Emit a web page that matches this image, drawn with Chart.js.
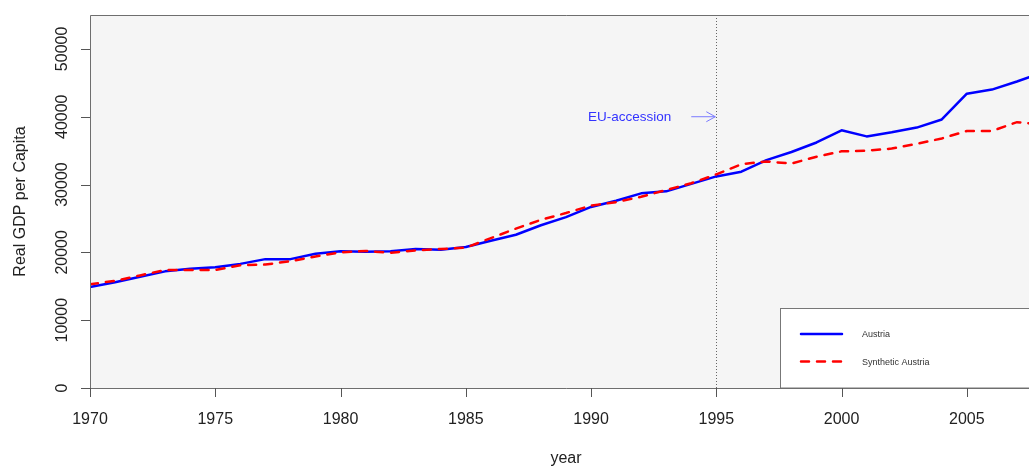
<!DOCTYPE html>
<html>
<head>
<meta charset="utf-8">
<title>Real GDP per Capita: Austria vs Synthetic Austria</title>
<script src="https://cdn.jsdelivr.net/npm/chart.js@4/dist/chart.umd.min.js"></script>
<style>
  html, body { margin: 0; padding: 0; background: #fff; overflow: hidden; }
  #wrap { position: relative; width: 1049px; height: 467px; }
</style>
</head>
<body>
<div id="wrap"><canvas id="gdpChart"></canvas></div>
<script>
// yearly series, 1970-2008
const years = [
  1970, 1971, 1972, 1973, 1974, 1975, 1976, 1977, 1978, 1979,
  1980, 1981, 1982, 1983, 1984, 1985, 1986, 1987, 1988, 1989,
  1990, 1991, 1992, 1993, 1994, 1995, 1996, 1997, 1998, 1999,
  2000, 2001, 2002, 2003, 2004, 2005, 2006, 2007, 2008,
];
const austria = [
  14900, 15600, 16400, 17200, 17600, 17800, 18300, 19000, 19000, 19800,
  20150, 20100, 20150, 20500, 20400, 20800, 21700, 22600, 24000, 25200,
  26700, 27600, 28700, 29000, 30100, 31200, 31900, 33600, 34800, 36200,
  38000, 37100, 37700, 38400, 39600, 43400, 44000, 45200, 46500,
];
const synthAustria = [
  15300, 15800, 16600, 17400, 17400, 17400, 18100, 18200, 18700, 19400,
  20000, 20200, 19950, 20300, 20500, 20700, 22100, 23500, 24800, 25800,
  26900, 27400, 28200, 29200, 30200, 31500, 33000, 33400, 33100, 34100,
  34900, 35000, 35300, 36000, 36800, 37900, 37900, 39200, 38850,
];
const xTicks = [1970, 1975, 1980, 1985, 1990, 1995, 2000, 2005];
const yTicks = [0, 10000, 20000, 30000, 40000, 50000];
const treatYear = 1995;
const arrowLevel = 40000;

const FONT = "'Liberation Sans', Arial, sans-serif";

// R-style frame: grey panel, box, ticks, labels, event marker, legend
const basePlot = {
  id: "basePlot",
  beforeDatasetsDraw(chart) {
    const { ctx, chartArea: a, scales: { x, y } } = chart;
    ctx.save();
    ctx.fillStyle = "#f5f5f5";
    ctx.fillRect(a.left, a.top, a.right - a.left, a.bottom - a.top);

    // dotted line at accession year
    const vx = Math.round(x.getPixelForValue(treatYear)) + 0.5;
    ctx.strokeStyle = "#666";
    ctx.lineWidth = 1;
    ctx.setLineDash([1, 2]);
    ctx.beginPath();
    ctx.moveTo(vx, a.top);
    ctx.lineTo(vx, a.bottom);
    ctx.stroke();
    ctx.setLineDash([]);

    // annotation arrow
    const ay = y.getPixelForValue(arrowLevel);
    const ax0 = x.getPixelForValue(treatYear - 1);
    const ax1 = x.getPixelForValue(treatYear) - 1;
    ctx.strokeStyle = "#7a7aff";
    ctx.beginPath();
    ctx.moveTo(ax0, ay);
    ctx.lineTo(ax1, ay);
    ctx.moveTo(ax1 - 9, ay - 5);
    ctx.lineTo(ax1, ay);
    ctx.lineTo(ax1 - 9, ay + 5);
    ctx.stroke();

    ctx.fillStyle = "#3333ff";
    ctx.font = "13.5px " + FONT;
    ctx.textAlign = "right";
    ctx.textBaseline = "middle";
    ctx.fillText("EU-accession", ax0 - 20, ay + 0.5);
    ctx.restore();
  },
  afterDatasetsDraw(chart) {
    const { ctx, chartArea: a, scales: { x, y } } = chart;
    ctx.save();

    // legend box in the lower right corner
    const lx = 780.5, ly = 308.5;
    ctx.fillStyle = "#fff";
    ctx.fillRect(lx, ly, a.right - lx, a.bottom - ly);
    ctx.strokeStyle = "#777";
    ctx.lineWidth = 1;
    ctx.strokeRect(lx, ly, a.right - lx, a.bottom - ly);

    ctx.lineCap = "round";
    ctx.lineWidth = 2.5;
    ctx.strokeStyle = "#0000ff";
    ctx.beginPath();
    ctx.moveTo(801, 334);
    ctx.lineTo(842, 334);
    ctx.stroke();
    ctx.strokeStyle = "#ff0000";
    ctx.setLineDash([8, 8]);
    ctx.beginPath();
    ctx.moveTo(801, 361.5);
    ctx.lineTo(842, 361.5);
    ctx.stroke();
    ctx.setLineDash([]);

    ctx.fillStyle = "#333";
    ctx.font = "9px " + FONT;
    ctx.textAlign = "left";
    ctx.textBaseline = "middle";
    ctx.fillText("Austria", 862, 335);
    ctx.fillText("Synthetic Austria", 862, 362.5);

    // box
    ctx.strokeStyle = "#6e6e6e";
    ctx.lineWidth = 1;
    ctx.lineCap = "butt";
    ctx.beginPath();
    ctx.moveTo(a.right, a.top + 0.5);
    ctx.lineTo(a.left + 0.5, a.top + 0.5);
    ctx.lineTo(a.left + 0.5, a.bottom + 0.5);
    ctx.lineTo(a.right, a.bottom + 0.5);
    ctx.stroke();

    // tick marks
    ctx.strokeStyle = "#555";
    ctx.beginPath();
    xTicks.forEach((t) => {
      const px = Math.round(x.getPixelForValue(t)) + 0.5;
      ctx.moveTo(px, a.bottom);
      ctx.lineTo(px, a.bottom + 9);
    });
    yTicks.forEach((t) => {
      const py = Math.round(y.getPixelForValue(t)) + 0.5;
      ctx.moveTo(a.left, py);
      ctx.lineTo(a.left - 9, py);
    });
    ctx.stroke();

    // tick labels
    ctx.fillStyle = "#222";
    ctx.font = "16px " + FONT;
    ctx.textAlign = "center";
    ctx.textBaseline = "alphabetic";
    xTicks.forEach((t) => {
      ctx.fillText(String(t), x.getPixelForValue(t), 424);
    });
    yTicks.forEach((t) => {
      ctx.save();
      ctx.translate(67, y.getPixelForValue(t));
      ctx.rotate(-Math.PI / 2);
      ctx.fillText(String(t), 0, 0);
      ctx.restore();
    });

    // axis titles
    ctx.fillStyle = "#222";
    ctx.fillText("year", (a.left + a.right) / 2, 463);
    ctx.save();
    ctx.translate(25, (a.top + a.bottom) / 2);
    ctx.rotate(-Math.PI / 2);
    ctx.fillText("Real GDP per Capita", 0, 0);
    ctx.restore();

    ctx.restore();
  },
};

const pts = (vals) => years.map((yr, i) => ({ x: yr, y: vals[i] }));

new Chart(document.getElementById("gdpChart"), {
  type: "line",
  data: {
    datasets: [
      {
        label: "Synthetic Austria",
        data: pts(synthAustria),
        borderColor: "#ff0000",
        borderWidth: 2.5,
        borderDash: [8, 8],
        borderCapStyle: "round",
        pointRadius: 0,
        tension: 0,
      },
      {
        label: "Austria",
        data: pts(austria),
        borderColor: "#0000ff",
        borderWidth: 2.5,
        borderCapStyle: "round",
        borderJoinStyle: "round",
        pointRadius: 0,
        tension: 0,
      },
    ],
  },
  options: {
    responsive: true,
    maintainAspectRatio: false,
    animation: false,
    devicePixelRatio: 1,
    layout: { padding: { left: 90, top: 15, right: 7, bottom: 79 } },
    plugins: { legend: { display: false }, tooltip: { enabled: false } },
    scales: {
      x: { type: "linear", min: 1970, max: 2008, display: false },
      y: { type: "linear", min: 0, max: 55000, display: false },
    },
  },
  plugins: [basePlot],
});
</script>
</body>
</html>
